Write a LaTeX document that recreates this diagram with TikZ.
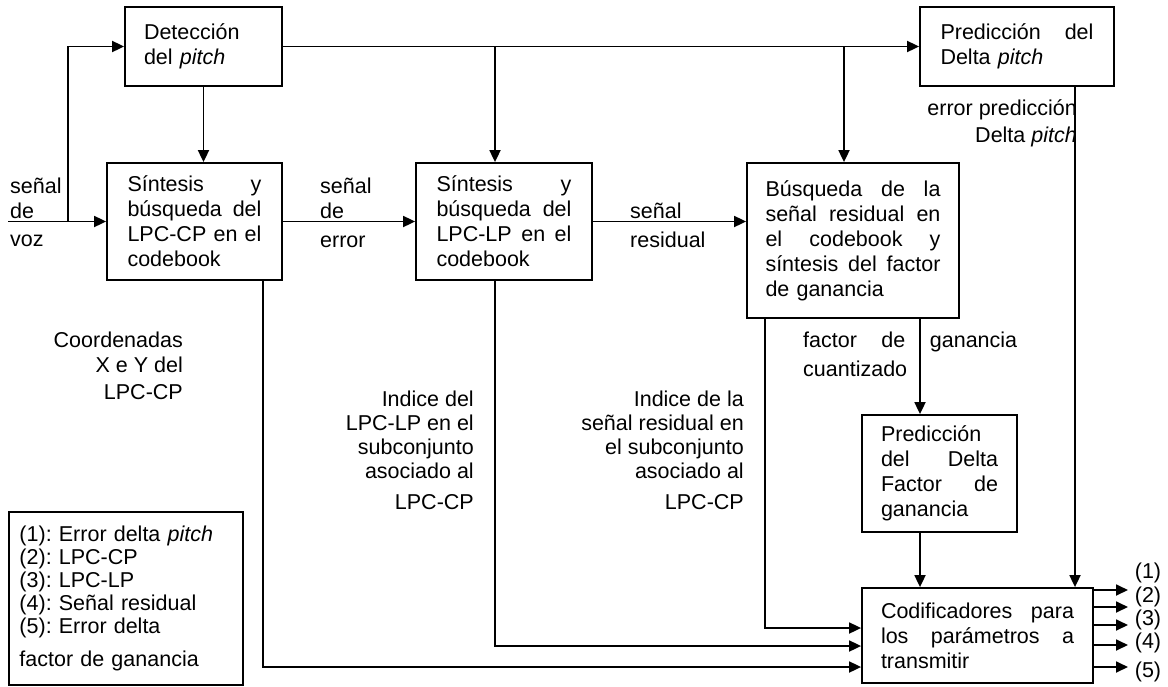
\documentclass[tikz,border=0pt]{standalone}
\usepackage{fontspec}
\setmainfont{Liberation Sans}
\usetikzlibrary{arrows.meta,calc}
% a line whose words are spread to the given width
\newcommand\jl[2]{\makebox[#1][s]{\spaceskip=.28em plus 1fil\relax #2}}
\frenchspacing
\begin{document}
\begin{tikzpicture}[x=1pt,y=-1pt,
  txt/.style={font=\fontsize{21.5}{25}\selectfont, inner sep=0pt},
  blk/.style={txt, draw, line width=1.8pt, align=left},
  lbl/.style={txt, align=left},
  rlbl/.style={txt, align=right, anchor=east},
  arr/.style={line width=1.8pt, -{Triangle[length=12pt,width=11pt]}}]
\useasboundingbox (0,0) rectangle (1168,686);

% blocks
\node[blk, minimum width=157pt, minimum height=79pt, text width=119pt] (det) at (203.5,46.5)
  {Detección\\del \textit{pitch}};
\node[blk, minimum width=194pt, minimum height=79pt, text width=153pt] (pred) at (1017,46.5)
  {\jl{153pt}{Predicción del}\\Delta \textit{pitch}};
\node[blk, minimum width=175pt, minimum height=117pt, text width=134pt] (s1) at (194.5,221.5)
  {\jl{134pt}{Síntesis y}\\\jl{134pt}{búsqueda del}\\\jl{134pt}{LPC-CP en el}\\codebook};
\node[blk, minimum width=176pt, minimum height=117pt, text width=135pt] (s2) at (504,221.5)
  {\jl{135pt}{Síntesis y}\\\jl{135pt}{búsqueda del}\\\jl{135pt}{LPC-LP en el}\\codebook};
\node[blk, minimum width=212pt, minimum height=155pt, text width=175pt] (busq) at (853,240.5)
  {\jl{175pt}{Búsqueda de la}\\\jl{175pt}{señal residual en}\\\jl{175pt}{el codebook y}\\\jl{175pt}{síntesis del factor}\\de ganancia};
\node[blk, minimum width=155pt, minimum height=117pt, text width=117pt] (pdf) at (939.5,473.5)
  {Predicción\\\jl{117pt}{del Delta}\\\jl{117pt}{Factor de}\\ganancia};
\node[blk, minimum width=231pt, minimum height=95pt, text width=193pt] (cod) at (977.5,635.5)
  {\jl{193pt}{Codificadores para}\\\jl{193pt}{los parámetros a}\\transmitir};

% legend
\node[blk, minimum width=234pt, minimum height=173pt, text width=213pt,
      font=\fontsize{21.5}{23}\selectfont] (leg) at (126,598.5)
  {(1): Error delta \textit{pitch}\\(2): LPC-CP\\(3): LPC-LP\\(4): Señal residual\\(5): Error delta\\[10pt]factor de ganancia};

% signal labels
\node[lbl, anchor=west] (lvoz) at (10,212) {señal\\de\\[3pt]voz};
\node[lbl, anchor=west] (lerr) at (320,213) {señal\\de\\[4pt]error};
\node[lbl, anchor=west] (lres) at (630,225) {señal\\[4pt]residual};
\node[rlbl, font=\fontsize{21.5}{27}\selectfont] (lep) at (1077,123.5) {error predicción\\Delta \textit{pitch}};
\node[lbl, anchor=west, text width=214pt, font=\fontsize{21.5}{29}\selectfont] (lfg) at (803,354.5)
  {\jl{214pt}{factor de ganancia}\\cuantizado};
\node[rlbl] (lcc) at (183,366) {Coordenadas\\X e Y del\\[2pt]LPC-CP};
\node[rlbl, font=\fontsize{21.5}{24}\selectfont] (lil) at (474,450.5)
  {Indice del\\LPC-LP en el\\subconjunto\\asociado al\\[7pt]LPC-CP};
\node[rlbl, font=\fontsize{21.5}{24}\selectfont] (lir) at (744,450.5)
  {Indice de la\\señal residual en\\el subconjunto\\asociado al\\[7pt]LPC-CP};

% output labels
\foreach \k/\y in {1/573,2/597,3/620,4/643,5/672}
  \node[txt] (o\k) at (1148,\y) {(\k)};

% helper points
\coordinate (vin) at (8,221.5);
\coordinate (b0) at (68,221.5);
\coordinate (j2) at (495,46.5);
\coordinate (j3) at (844,46.5);
\coordinate (xpd) at (1075,0);
\coordinate (xg) at (920,0);
\coordinate (r1) at (765,628);
\coordinate (r2) at (495,646);
\coordinate (r3) at (263,667);

% connectors
\draw[arr] (vin) -- (s1.west);
\draw[arr] (b0) |- (det.west);
\draw[arr] (det.south) -- (det.south |- s1.north);
\draw[arr] (det.east) -- (pred.west);
\draw[arr] (j2) -- (j2 |- s2.north);
\draw[arr] (j3) -- (j3 |- busq.north);
\draw[arr] (s1.east) -- (s2.west);
\draw[arr] (s2.east) -- (s2.east -| busq.west);
\draw[arr] (pred.south -| xpd) -- (cod.north -| xpd);
\draw[arr] (busq.south -| xg) -- (pdf.north -| xg);
\draw[arr] (pdf.south -| xg) -- (cod.north -| xg);
\draw[arr] (busq.south -| r1) |- (cod.west |- r1);
\draw[arr] (s2.south -| r2) |- (cod.west |- r2);
\draw[arr] (s1.south -| r3) |- (cod.west |- r3);

% outputs
\foreach \k/\y in {1/590,2/607,3/625,4/645,5/667}{
  \coordinate (q\k) at (1128,\y);
  \draw[arr] (cod.east |- q\k) -- (q\k);
}
\end{tikzpicture}
\end{document}
